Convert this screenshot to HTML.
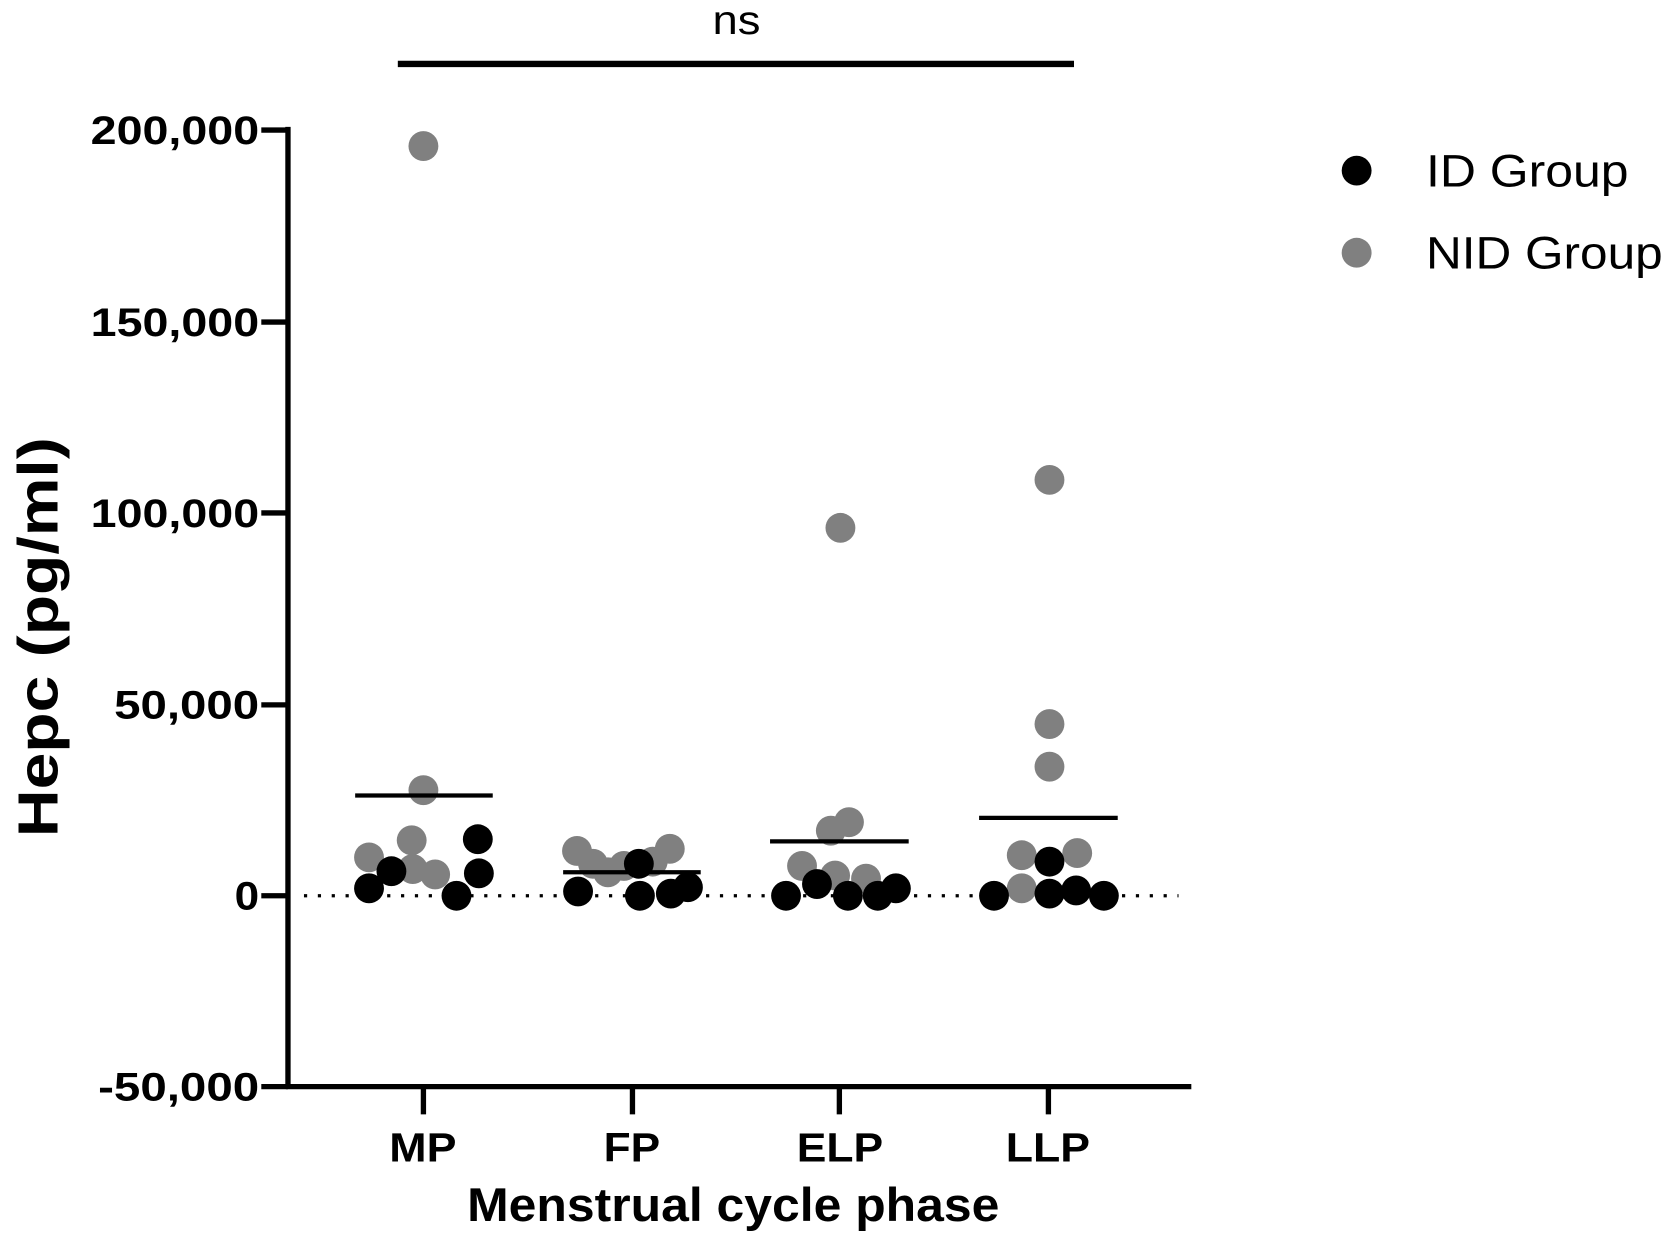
<!DOCTYPE html>
<html><head><meta charset="utf-8"><style>html,body{margin:0;padding:0;background:#fff}svg{display:block}</style></head>
<body>
<svg width="1667" height="1237" viewBox="0 0 1563 1160" preserveAspectRatio="none" xmlns="http://www.w3.org/2000/svg" font-family="Liberation Sans, sans-serif">
<rect width="1563" height="1160" fill="#fff"/>
<line x1="373" y1="60" x2="1007" y2="60" stroke="#000" stroke-width="6"/>
<text x="668" y="32" font-size="38" textLength="45" lengthAdjust="spacingAndGlyphs">ns</text>
<line x1="285" y1="840" x2="1105" y2="840" stroke="#000" stroke-width="3" stroke-dasharray="3,10"/>
<g stroke="#000" stroke-width="5" fill="none">
<line x1="270" y1="119" x2="270" y2="1021"/>
<line x1="268" y1="1019" x2="1117" y2="1019"/>
<line x1="245" y1="122" x2="270" y2="122"/>
<line x1="245" y1="302" x2="270" y2="302"/>
<line x1="245" y1="481" x2="270" y2="481"/>
<line x1="245" y1="661" x2="270" y2="661"/>
<line x1="245" y1="840" x2="270" y2="840"/>
<line x1="245" y1="1019" x2="270" y2="1019"/>
<line x1="397" y1="1019" x2="397" y2="1045"/>
<line x1="593" y1="1019" x2="593" y2="1045"/>
<line x1="787" y1="1019" x2="787" y2="1045"/>
<line x1="983" y1="1019" x2="983" y2="1045"/>
</g>
<g font-size="37" font-weight="bold">
<text x="85" y="135" textLength="158" lengthAdjust="spacingAndGlyphs">200,000</text>
<text x="85" y="315" textLength="158" lengthAdjust="spacingAndGlyphs">150,000</text>
<text x="85" y="494" textLength="158" lengthAdjust="spacingAndGlyphs">100,000</text>
<text x="107" y="674" textLength="136" lengthAdjust="spacingAndGlyphs">50,000</text>
<text x="220" y="853" textLength="23" lengthAdjust="spacingAndGlyphs">0</text>
<text x="92" y="1032" textLength="151" lengthAdjust="spacingAndGlyphs">-50,000</text>
</g>
<g font-size="38" font-weight="bold">
<text x="365" y="1089" textLength="63" lengthAdjust="spacingAndGlyphs">MP</text>
<text x="566" y="1089" textLength="53" lengthAdjust="spacingAndGlyphs">FP</text>
<text x="747" y="1089" textLength="81" lengthAdjust="spacingAndGlyphs">ELP</text>
<text x="943" y="1089" textLength="79" lengthAdjust="spacingAndGlyphs">LLP</text>
</g>
<text x="438" y="1145" font-size="44" font-weight="bold" textLength="499" lengthAdjust="spacingAndGlyphs">Menstrual cycle phase</text>
<text transform="translate(54,785) rotate(-90)" font-size="53" font-weight="bold" textLength="375" lengthAdjust="spacingAndGlyphs">Hepc (pg/ml)</text>
<g fill="#808080">
<circle cx="397" cy="137" r="14"/><circle cx="397" cy="741" r="14"/><circle cx="346" cy="804" r="14"/><circle cx="386" cy="788" r="14"/><circle cx="387" cy="815" r="14"/><circle cx="408" cy="820" r="14"/>
<circle cx="541" cy="798" r="14"/><circle cx="556" cy="810" r="14"/><circle cx="570" cy="818" r="14"/><circle cx="585" cy="812" r="14"/><circle cx="628" cy="796" r="14"/><circle cx="612" cy="808" r="14"/>
<circle cx="788" cy="495" r="14"/><circle cx="779" cy="779" r="14"/><circle cx="796" cy="771" r="14"/><circle cx="752" cy="812" r="14"/><circle cx="783" cy="821" r="14"/><circle cx="812" cy="824" r="14"/>
<circle cx="984" cy="450" r="14"/><circle cx="984" cy="679" r="14"/><circle cx="984" cy="719" r="14"/><circle cx="958" cy="802" r="14"/><circle cx="1010" cy="800" r="14"/><circle cx="958" cy="833" r="14"/>
</g>
<g stroke="#000" stroke-width="4">
<line x1="333" y1="746" x2="462" y2="746"/>
<line x1="528" y1="818" x2="657" y2="818"/>
<line x1="722" y1="789" x2="852" y2="789"/>
<line x1="918" y1="767" x2="1048" y2="767"/>
</g>
<g fill="#000">
<circle cx="346" cy="833" r="14"/><circle cx="367" cy="817" r="14"/><circle cx="428" cy="840" r="14"/><circle cx="448" cy="787" r="14"/><circle cx="449" cy="819" r="14"/>
<circle cx="542" cy="836" r="14"/><circle cx="599" cy="810" r="14"/><circle cx="600" cy="840" r="14"/><circle cx="629" cy="838" r="14"/><circle cx="645" cy="832" r="14"/>
<circle cx="737" cy="840" r="14"/><circle cx="766" cy="829" r="14"/><circle cx="795" cy="840" r="14"/><circle cx="823" cy="840" r="14"/><circle cx="840" cy="833" r="14"/>
<circle cx="932" cy="840" r="14"/><circle cx="984" cy="808" r="14"/><circle cx="984" cy="838" r="14"/><circle cx="1009" cy="835" r="14"/><circle cx="1035" cy="840" r="14"/>
</g>
<circle cx="1272" cy="160" r="14" fill="#000"/>
<circle cx="1272" cy="237" r="14" fill="#808080"/>
<text x="1337" y="175" font-size="43" textLength="190" lengthAdjust="spacingAndGlyphs">ID Group</text>
<text x="1337" y="252" font-size="43" textLength="222" lengthAdjust="spacingAndGlyphs">NID Group</text>
</svg>
</body></html>
